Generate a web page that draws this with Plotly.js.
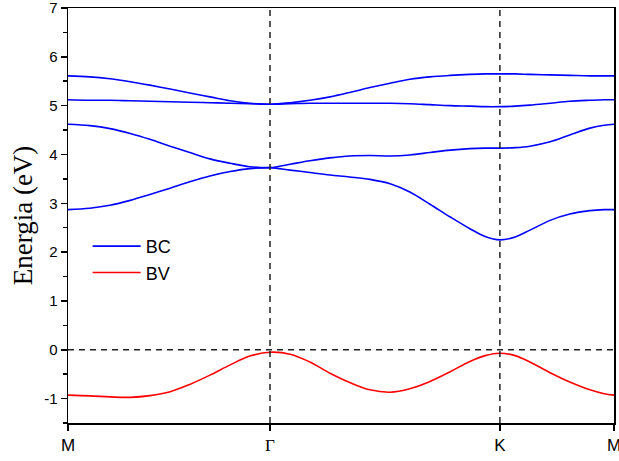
<!DOCTYPE html>
<html>
<head>
<meta charset="utf-8">
<script src="https://cdn.plot.ly/plotly-3.0.1.min.js"></script>
<style>html,body{margin:0;padding:0;background:#fff;}#chart{width:619px;height:461px;}</style>
</head>
<body>
<div id="chart"></div>
<script>
// High-symmetry points along the path (normalized path coordinate)
const kLabels = ['M', 'Γ', 'K', 'M'];
const kPos = [0, 0.370, 0.791, 1.0];

// sampled path coordinate
const k = [0.000, 0.040, 0.077, 0.114, 0.150, 0.187, 0.223, 0.260, 0.297, 0.333,
           0.370, 0.407, 0.443, 0.480, 0.516, 0.553, 0.590, 0.626, 0.663, 0.700,
           0.736, 0.764, 0.791, 0.819, 0.846, 0.883, 0.919, 0.956, 0.982, 1.000];

// Conduction bands (BC)
const bc1 = [2.87, 2.90, 2.96, 3.06, 3.18, 3.31, 3.44, 3.56, 3.65, 3.71,
             3.73, 3.68, 3.63, 3.58, 3.54, 3.49, 3.40, 3.23, 2.98, 2.72,
             2.48, 2.32, 2.25, 2.31, 2.45, 2.65, 2.78, 2.85, 2.87, 2.87];
const bc2 = [4.62, 4.59, 4.53, 4.43, 4.31, 4.17, 4.04, 3.91, 3.82, 3.75,
             3.73, 3.80, 3.87, 3.93, 3.97, 3.98, 3.97, 3.99, 4.04, 4.09,
             4.12, 4.13, 4.13, 4.14, 4.17, 4.26, 4.40, 4.54, 4.60, 4.62];
const bc3 = [5.12, 5.11, 5.11, 5.10, 5.09, 5.08, 5.07, 5.06, 5.05, 5.04,
             5.03, 5.04, 5.05, 5.05, 5.05, 5.05, 5.05, 5.04, 5.02, 5.00,
             4.99, 4.98, 4.98, 4.99, 5.01, 5.05, 5.09, 5.11, 5.12, 5.12];
const bc4 = [5.61, 5.59, 5.55, 5.49, 5.42, 5.34, 5.26, 5.18, 5.10, 5.05,
             5.03, 5.06, 5.11, 5.18, 5.27, 5.37, 5.46, 5.54, 5.59, 5.62,
             5.64, 5.65, 5.65, 5.65, 5.64, 5.63, 5.62, 5.61, 5.61, 5.61];
// Valence band (BV)
const bv1 = [-0.93, -0.945, -0.965, -0.975, -0.94, -0.86, -0.71, -0.52, -0.31, -0.13,
             -0.05, -0.09, -0.25, -0.48, -0.67, -0.82, -0.87, -0.80, -0.65, -0.45,
             -0.24, -0.12, -0.07, -0.12, -0.25, -0.47, -0.66, -0.82, -0.90, -0.93];

const yTicks = [-1, 0, 1, 2, 3, 4, 5, 6, 7];
const yTickText = ['-1', '0', '1', '2', '3', '4', '5', '6', '7'];
const yRange = [-1.5, 7];
const fermi = 0;

const blue = '#0000ff';
const red = '#ff0000';
const dashStyle = {color: '#222', width: 1.5, dash: '6px,5px'};

const traces = [];
[bc1, bc2, bc3, bc4].forEach((b, i) => {
  traces.push({x: k, y: b, type: 'scatter', mode: 'lines', name: 'BC',
    legendgroup: 'BC', showlegend: i === 0,
    line: {color: blue, width: 1.6, shape: 'spline', smoothing: 1},
    hoverinfo: 'skip'});
});
traces.push({x: k, y: bv1, type: 'scatter', mode: 'lines', name: 'BV',
  legendgroup: 'BV', showlegend: true,
  line: {color: red, width: 1.6, shape: 'spline', smoothing: 1}, hoverinfo: 'skip'});

// dashed reference lines
[kPos[1], kPos[2]].forEach(xv => {
  traces.push({x: [xv, xv], y: yRange, type: 'scatter', mode: 'lines',
    showlegend: false, line: dashStyle, hoverinfo: 'skip'});
});
traces.push({x: [kPos[0], kPos[3]], y: [fermi, fermi], type: 'scatter', mode: 'lines',
  showlegend: false, line: dashStyle, hoverinfo: 'skip'});

const tickText = kLabels.map(l => l === 'Γ'
  ? '<span style="font-family:\'Liberation Serif\',\'Times New Roman\',serif">Γ</span>' : l);

const layout = {
  width: 619, height: 461,
  margin: {l: 68, r: 5, t: 8, b: 38},
  paper_bgcolor: '#fff', plot_bgcolor: '#fff',
  showlegend: true,
  legend: {x: 0.036, y: 0.47, xanchor: 'left', yanchor: 'top', itemwidth: 48,
    bgcolor: 'rgba(0,0,0,0)', font: {family: 'Liberation Sans, Arial, sans-serif', size: 18, color: '#000'},
    tracegroupgap: 0},
  font: {family: 'Liberation Sans, Arial, sans-serif', size: 15, color: '#000'},
  xaxis: {range: [0, 1], tickmode: 'array', tickvals: kPos, ticktext: tickText,
    ticks: 'outside', ticklen: 6, tickwidth: 1.5, tickcolor: '#000', ticklabeloverflow: 'allow',
    showline: true, linecolor: '#000', linewidth: 1.5, mirror: true,
    showgrid: false, zeroline: false, tickfont: {size: 17}},
  yaxis: {range: yRange, tickmode: 'array', tickvals: yTicks, ticktext: yTickText,
    ticks: 'outside', ticklen: 6, tickwidth: 1.5, tickcolor: '#000', ticklabeloverflow: 'allow',
    minor: {tickmode: 'linear', tick0: 0.5, dtick: 1, ticks: 'outside', ticklen: 4, tickwidth: 1.5, tickcolor: '#000', showgrid: false},
    showline: true, linecolor: '#000', linewidth: 1.5, mirror: true,
    showgrid: false, zeroline: false, tickfont: {size: 15},
    title: {text: 'Energia (eV)', standoff: 3,
      font: {family: 'Liberation Serif, Times New Roman, serif', size: 27, color: '#000'}}}
};

Plotly.newPlot('chart', traces, layout, {displayModeBar: false, staticPlot: true});
</script>
</body>
</html>
